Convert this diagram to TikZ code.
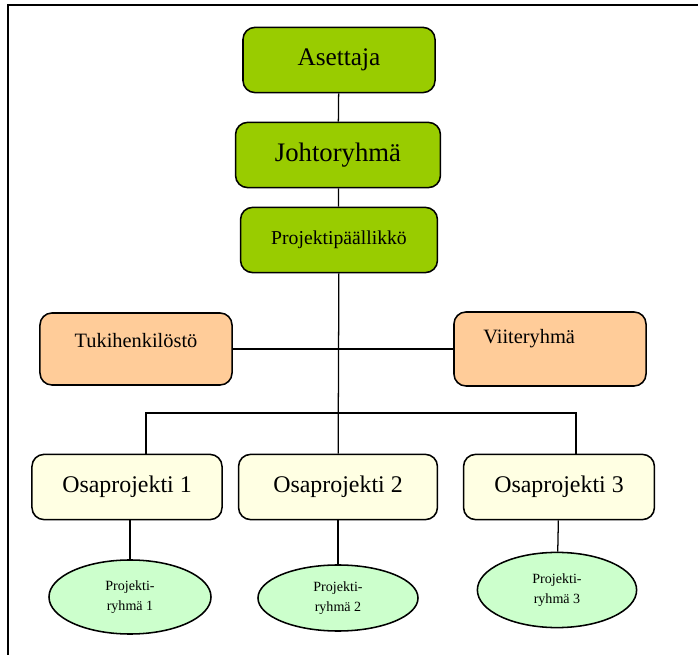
\documentclass[tikz,border=0pt]{standalone}
\usepackage{fontspec}
\setmainfont{Liberation Serif}
\usepackage{xcolor}
\usepackage{tikz}
\usetikzlibrary{shapes,positioning,calc}

\definecolor{leadgreen}{HTML}{99CC00}
\definecolor{supportorange}{HTML}{FFCC99}
\definecolor{partyellow}{HTML}{FFFFE3}
\definecolor{teamgreen}{HTML}{CCFFCC}

\tikzset{
    orgbox/.style={draw, line width=1.1pt, rounded corners=0.3cm, inner sep=0pt},
    leadbox/.style={orgbox, fill=leadgreen},
    sidebox/.style={orgbox, fill=supportorange, minimum width=4.8cm, minimum height=1.8cm},
    partbox/.style={orgbox, fill=partyellow, minimum height=1.63cm},
    teamoval/.style={draw, ellipse, line width=1.1pt, fill=teamgreen, inner sep=0pt,
        minimum width=4.05cm, minimum height=1.85cm, align=center,
        font=\fontsize{10}{14}\selectfont},
    orgline/.style={line width=0.9pt}
}

\begin{document}
\begin{tikzpicture}[x=0.025cm, y=-0.025cm]
    \useasboundingbox (0,0) rectangle (698,655);

    % Frame
    \draw[line width=0.8pt] (698,5) -- (8,5) -- (8,655);

    % Management
    \node[leadbox, minimum width=4.8cm, minimum height=1.63cm, font=\fontsize{18}{20}\selectfont] (asettaja) at (339,60) {Asettaja};
    \node[leadbox, minimum width=5.12cm, minimum height=1.63cm, font=\fontsize{19}{21}\selectfont] (johto) at (338,155) {Johtoryhmä};
    \node[leadbox, minimum width=4.92cm, minimum height=1.63cm, font=\fontsize{14}{16}\selectfont] (ppl) at (339,240) {Projektipäällikkö};

    % Support
    \node[sidebox, label={[yshift=0.22cm, font=\fontsize{14.5}{16}\selectfont]center:Tukihenkilöstö}] (tuki) at (136,349) {};
    \node[sidebox, minimum height=1.85cm, label={[xshift=-0.52cm, yshift=0.27cm, font=\fontsize{14.5}{16}\selectfont]center:Viiteryhmä}] (viite) at (550,349) {};

    % Subprojects
    \node[partbox, minimum width=4.75cm, font=\fontsize{17}{19}\selectfont] (osa1) at (127,487) {Osaprojekti 1};
    \node[partbox, minimum width=4.97cm, font=\fontsize{17}{19}\selectfont] (osa2) at (338,487) {Osaprojekti 2};
    \node[partbox, minimum width=4.77cm, font=\fontsize{17}{19}\selectfont] (osa3) at (559,487) {Osaprojekti 3};

    % Teams
    \node[teamoval] (ryhma1) at (130,597) {Projekti-\\ryhmä 1};
    \node[teamoval, minimum width=4cm, minimum height=1.65cm] (ryhma2) at (338,598) {Projekti-\\ryhmä 2};
    \node[teamoval, minimum width=3.98cm, minimum height=1.88cm] (ryhma3) at (557,590) {Projekti-\\ryhmä 3};

    % Lines
    \coordinate (busL) at (146,413);
    \coordinate (busR) at (576,413);
    \draw[orgline] (asettaja) -- (johto);
    \draw[orgline] (johto) -- (ppl);
    \draw[orgline] (ppl) -- (osa2);
    \draw[orgline] (tuki) -- (viite);
    \draw[orgline] (osa1.north -| busL) -- (busL) -- (busR) -- (osa3.north -| busR);
    \draw[orgline] (osa1.south -| ryhma1.north) -- (ryhma1);
    \draw[orgline] (osa2) -- (ryhma2);
    \draw[orgline] (osa3) -- (ryhma3);
\end{tikzpicture}
\end{document}
